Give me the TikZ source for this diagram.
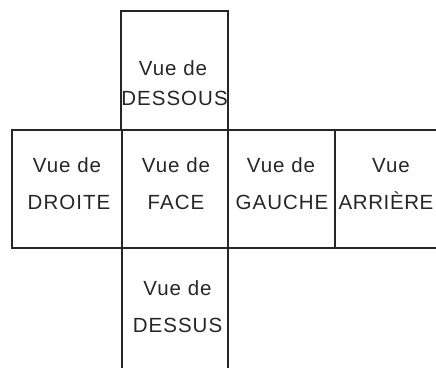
\documentclass[tikz,border=0pt]{standalone}
\usepackage{fontspec}
\setmainfont{Liberation Sans}[LetterSpace=5]
\begin{document}
\begin{tikzpicture}[x=1pt,y=-1pt,
  box/.style={draw=black!85,line width=1.2pt,rectangle,inner sep=0pt,outer sep=0pt},
  lbl/.style={anchor=base,inner sep=0pt,text=black!85,font=\fontsize{20.5}{24}\selectfont}]
\useasboundingbox (0,0) rectangle (436,367);
\begin{scope}
\clip (0,0) rectangle (436,367);
\node[box,minimum width=107pt,minimum height=119pt] (dessous) at (174.5,70.5) {};
\node[box,minimum width=110pt,minimum height=118pt] (droite) at (67,189) {};
\node[box,minimum width=106pt,minimum height=118pt] (face) at (175,189) {};
\node[box,minimum width=107pt,minimum height=118pt] (gauche) at (281.5,189) {};
\node[box,minimum width=114pt,minimum height=118pt] (arriere) at (392,189) {};
\node[box,minimum width=106pt,minimum height=130pt] (dessus) at (175,313) {};
\end{scope}
\node[lbl] (t1) at (173,75) {Vue de};
\node[lbl] (t2) at (174.5,105) {DESSOUS};
\node[lbl] (t3) at (67,172) {Vue de};
\node[lbl] (t4) at (69,209) {DROITE};
\node[lbl] (t5) at (176,172) {Vue de};
\node[lbl] (t6) at (176,209) {FACE};
\node[lbl] (t7) at (281,172) {Vue de};
\node[lbl] (t8) at (282,209) {GAUCHE};
\node[lbl] (t9) at (391,172) {Vue};
\node[lbl] (t10) at (386,209) {\addfontfeature{LetterSpace=3}ARRIÈRE};
\node[lbl] (t11) at (177.5,295) {Vue de};
\node[lbl] (t12) at (177.5,332) {DESSUS};
\end{tikzpicture}
\end{document}
